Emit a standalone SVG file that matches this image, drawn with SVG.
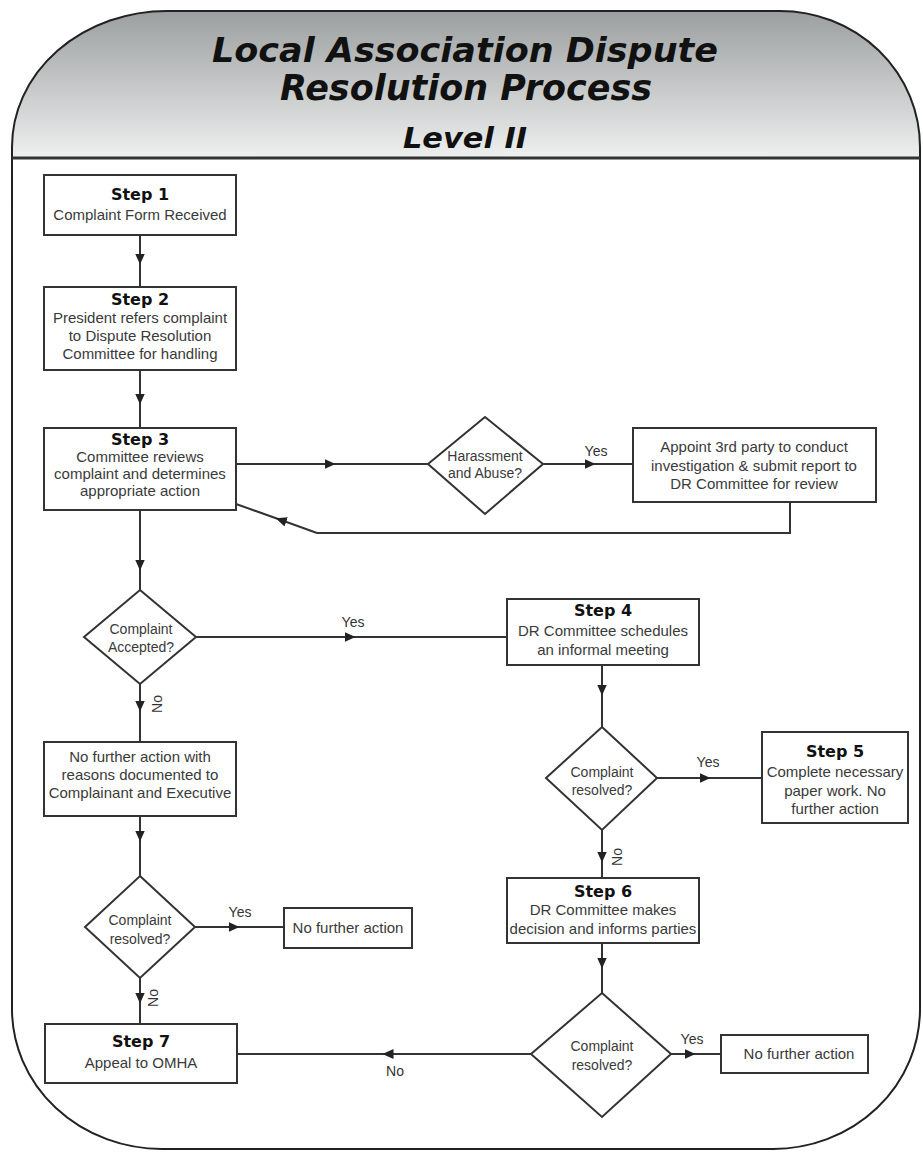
<svg xmlns="http://www.w3.org/2000/svg" width="923" height="1152" viewBox="0 0 923 1152">
<defs>
<linearGradient id="hdr" x1="0" y1="0" x2="0" y2="1">
<stop offset="0" stop-color="#9c9f9f"/>
<stop offset="1" stop-color="#eef0f0"/>
</linearGradient>
<marker id="ah" viewBox="0 0 10 10" refX="5" refY="5" markerWidth="11" markerHeight="11" markerUnits="userSpaceOnUse" orient="auto">
<path d="M0,0.5 L10,5 L0,9.5 Z" fill="#222"/>
</marker>
<style>
.box{fill:#fff;stroke:#333;stroke-width:2}
.con{fill:none;stroke:#333;stroke-width:2}
.arr{fill:none;stroke:#333;stroke-width:2;marker-mid:url(#ah)}
.t{font-family:"Liberation Sans",Arial,sans-serif;font-size:15px;fill:#3a3a3a;text-anchor:middle}
.d{font-family:"Liberation Sans",Arial,sans-serif;font-size:14px;fill:#3a3a3a;text-anchor:middle}
.s{font-family:"DejaVu Sans","Liberation Sans",sans-serif;font-size:16px;font-weight:bold;fill:#111;text-anchor:middle}
.lbl{font-family:"Liberation Sans",Arial,sans-serif;font-size:14px;fill:#333;text-anchor:middle}
.title{font-family:"DejaVu Sans","Liberation Sans",sans-serif;font-weight:bold;font-style:oblique;fill:#111;text-anchor:middle}
</style>
</defs>
<rect width="923" height="1152" fill="#fff"/>
<g id="frame">
<path d="M12,158 L12,147 A155,136 0 0 1 167,11 L780,11 A140,136 0 0 1 920,147 L920,158 Z" fill="url(#hdr)"/>
<path d="M12,147 A155,136 0 0 1 167,11 L780,11 A140,136 0 0 1 920,147 L920,1009 A147,140 0 0 1 773,1149 L162,1149 A150,140 0 0 1 12,1009 Z" fill="none" stroke="#222" stroke-width="2"/>
<line x1="12" y1="158" x2="920" y2="158" stroke="#333" stroke-width="3"/>
<text class="title" x="465" y="62" font-size="34" textLength="506" lengthAdjust="spacingAndGlyphs">Local Association Dispute</text>
<text class="title" x="466" y="100" font-size="35" textLength="372" lengthAdjust="spacingAndGlyphs">Resolution Process</text>
<text class="title" x="465" y="148" font-size="28" textLength="124" lengthAdjust="spacingAndGlyphs">Level II</text>
</g>
<g id="connectors">
<path class="arr" d="M140,235 L140,259 L140,287"/>
<path class="arr" d="M140,370 L140,399 L140,428"/>
<path class="arr" d="M236,464 L330,464 L428,464"/>
<path class="arr" d="M543,464 L590,464 L633,464"/>
<path class="con" d="M790,502 L790,533 L317,533"/>
<path class="arr" d="M317,533 L281,520 L236,504"/>
<path class="arr" d="M140,510 L140,565 L140,590"/>
<path class="arr" d="M196,637 L350,637 L507,637"/>
<path class="arr" d="M140,684 L140,706 L140,742"/>
<path class="arr" d="M602,665 L602,690 L602,727"/>
<path class="arr" d="M657,778 L705,778 L762,778"/>
<path class="arr" d="M602,830 L602,857 L602,878"/>
<path class="arr" d="M602,943 L602,963 L602,993"/>
<path class="arr" d="M671,1054 L690,1054 L721,1054"/>
<path class="arr" d="M531,1054 L388,1054 L237,1054"/>
<path class="arr" d="M140,816 L140,836 L140,876"/>
<path class="arr" d="M195,927 L234,927 L284,927"/>
<path class="arr" d="M140,978 L140,998 L140,1024"/>
<text class="lbl" x="596" y="456">Yes</text>
<text class="lbl" x="353" y="627">Yes</text>
<text class="lbl" x="708" y="767">Yes</text>
<text class="lbl" x="240" y="917">Yes</text>
<text class="lbl" x="692" y="1044">Yes</text>
<text class="lbl" x="395" y="1076">No</text>
<text class="lbl" transform="translate(157,704) rotate(-90)" y="5">No</text>
<text class="lbl" transform="translate(617,857) rotate(-90)" y="5">No</text>
<text class="lbl" transform="translate(153,998) rotate(-90)" y="5">No</text>
</g>
<g id="step1">
<rect class="box" x="44" y="175" width="192" height="60"/>
<text class="s" x="140" y="200">Step 1</text>
<text class="t" x="140" y="220">Complaint Form Received</text>
</g>
<g id="step2">
<rect class="box" x="44" y="287" width="192" height="83"/>
<text class="s" x="140" y="305">Step 2</text>
<text class="t" x="140" y="323">President refers complaint</text>
<text class="t" x="140" y="341">to Dispute Resolution</text>
<text class="t" x="140" y="359">Committee for handling</text>
</g>
<g id="step3">
<rect class="box" x="44" y="428" width="192" height="82"/>
<text class="s" x="140" y="445">Step 3</text>
<text class="t" x="140" y="462">Committee reviews</text>
<text class="t" x="140" y="479">complaint and determines</text>
<text class="t" x="140" y="496">appropriate action</text>
</g>
<g id="harassment">
<polygon class="box" points="485,417 543,464 485,514 428,464"/>
<text class="d" x="485" y="461">Harassment</text>
<text class="d" x="485" y="478">and Abuse?</text>
</g>
<g id="appoint">
<rect class="box" x="633" y="428" width="243" height="74"/>
<text class="t" x="754" y="452">Appoint 3rd party to conduct</text>
<text class="t" x="754" y="471">investigation &amp; submit report to</text>
<text class="t" x="754" y="489">DR Committee for review</text>
</g>
<g id="accepted">
<polygon class="box" points="140,590 196,637 140,684 84,637"/>
<text class="d" x="141" y="634">Complaint</text>
<text class="d" x="141" y="652">Accepted?</text>
</g>
<g id="step4">
<rect class="box" x="507" y="599" width="192" height="66"/>
<text class="s" x="603" y="616">Step 4</text>
<text class="t" x="603" y="636">DR Committee schedules</text>
<text class="t" x="603" y="655">an informal meeting</text>
</g>
<g id="resolved1">
<polygon class="box" points="602,727 657,778 602,830 546,778"/>
<text class="d" x="602" y="777">Complaint</text>
<text class="d" x="602" y="795">resolved?</text>
</g>
<g id="step5">
<rect class="box" x="762" y="732" width="146" height="91"/>
<text class="s" x="835" y="757">Step 5</text>
<text class="t" x="835" y="777">Complete necessary</text>
<text class="t" x="835" y="796">paper work. No</text>
<text class="t" x="835" y="814">further action</text>
</g>
<g id="step6">
<rect class="box" x="507" y="878" width="192" height="65"/>
<text class="s" x="603" y="897">Step 6</text>
<text class="t" x="603" y="915">DR Committee makes</text>
<text class="t" x="603" y="934">decision and informs parties</text>
</g>
<g id="resolved3">
<polygon class="box" points="602,993 671,1054 602,1117 531,1054"/>
<text class="d" x="602" y="1051">Complaint</text>
<text class="d" x="602" y="1070">resolved?</text>
</g>
<g id="nfa-right">
<rect class="box" x="721" y="1035" width="147" height="38"/>
<text class="t" x="799" y="1059">No further action</text>
</g>
<g id="no-reasons">
<rect class="box" x="44" y="742" width="192" height="74"/>
<text class="t" x="140" y="762">No further action with</text>
<text class="t" x="140" y="780">reasons documented to</text>
<text class="t" x="140" y="798">Complainant and Executive</text>
</g>
<g id="resolved2">
<polygon class="box" points="140,876 195,927 140,978 85,927"/>
<text class="d" x="140" y="925">Complaint</text>
<text class="d" x="140" y="944">resolved?</text>
</g>
<g id="nfa-left">
<rect class="box" x="284" y="908" width="128" height="40"/>
<text class="t" x="348" y="933">No further action</text>
</g>
<g id="step7">
<rect class="box" x="45" y="1024" width="192" height="59"/>
<text class="s" x="141" y="1047">Step 7</text>
<text class="t" x="141" y="1068">Appeal to OMHA</text>
</g>
</svg>
